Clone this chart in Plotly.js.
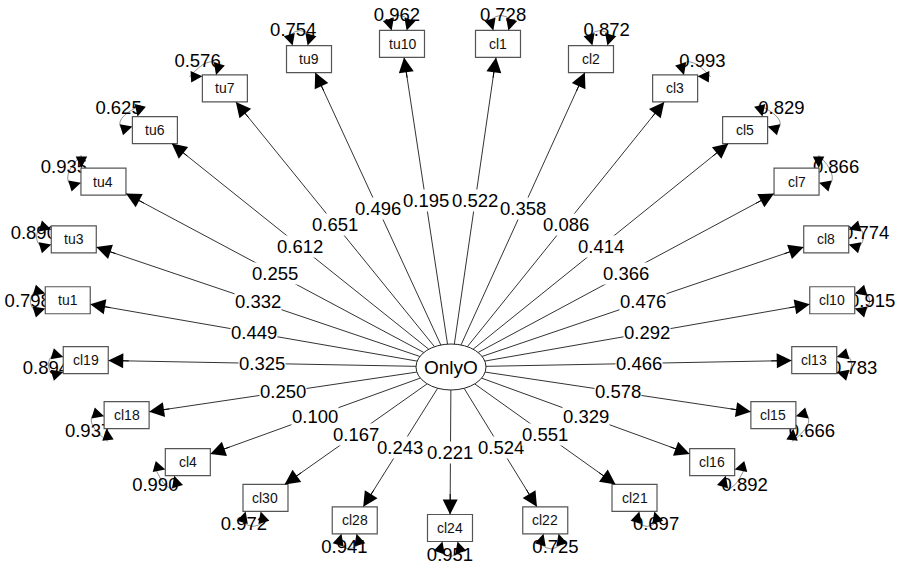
<!DOCTYPE html>
<html><head><meta charset="utf-8">
<script src="https://cdn.plot.ly/plotly-3.0.1.min.js"></script>
<style>html,body{margin:0;padding:0;background:#fff;}</style>
</head><body><div id="chart" style="width:899px;height:568px;"></div>
<script>
// ---- data ----
const latentName = 'OnlyO';
const indicators = ['tu10','tu9','tu7','tu6','tu4','tu3','tu1','cl19','cl18','cl4','cl30','cl28','cl24','cl22','cl21','cl16','cl15','cl13','cl10','cl8','cl7','cl5','cl3','cl2','cl1'];
const loadings = [0.195,0.496,0.651,0.612,0.255,0.332,0.449,0.325,0.250,0.100,0.167,0.243,0.221,0.524,0.551,0.329,0.578,0.466,0.292,0.476,0.366,0.414,0.086,0.358,0.522];
const residuals = [0.962,0.754,0.576,0.625,0.935,0.890,0.798,0.894,0.937,0.990,0.972,0.941,0.951,0.725,0.697,0.892,0.666,0.783,0.915,0.774,0.866,0.829,0.993,0.872,0.728];

// ---- layout geometry (circle layout) ----
const W = 899, H = 568;
const ring = {cx: 450, cy: 285, rx: 383, ry: 243, start: 97.2};
const lat = {x: 451, y: 367, rx: 35, ry: 23};
const hw = 22.5, hh = 13.5;
const PER = 4*hw + 4*hh;
const FONT = 'Liberation Sans, Arial, Helvetica, sans-serif';
const n = indicators.length, step = 360/n;

function rectFromArc(s){
  s = ((s % PER) + PER) % PER;
  if (s < 2*hw) return {x:-hw+s, y:-hh, nx:0, ny:-1};
  s -= 2*hw; if (s < 2*hh) return {x:hw, y:-hh+s, nx:1, ny:0};
  s -= 2*hh; if (s < 2*hw) return {x:hw-s, y:hh, nx:0, ny:1};
  s -= 2*hw; return {x:-hw, y:hh-s, nx:-1, ny:0};
}
function arcFromRect(px, py){
  if (Math.abs(py)/hh >= Math.abs(px)/hw){
    return py < 0 ? px + hw : 2*hw + 2*hh + (hw - px);
  }
  return px > 0 ? 2*hw + (py + hh) : 4*hw + 2*hh + (hh - py);
}

const lineX = [], lineY = [];
const resX = [], resY = [], resT = [];
const headAnn = [], labelAnn = [], nameAnn = [], loopAnn = [];
const shapesBelow = [], shapesAbove = [];

indicators.forEach((name, i) => {
  const t = (ring.start + step*i) * Math.PI/180;
  const c = Math.cos(t), s = Math.sin(t);
  const nx = ring.cx + ring.rx*c, ny = ring.cy - ring.ry*s;

  // main edge from latent ellipse border to box border
  const vx = nx - lat.x, vy = ny - lat.y;
  const ks = 1/Math.sqrt((vx/lat.rx)**2 + (vy/lat.ry)**2);
  const sx = lat.x + vx*ks, sy = lat.y + vy*ks;
  const ke = Math.min(hw/Math.max(Math.abs(vx),1e-9), hh/Math.max(Math.abs(vy),1e-9));
  const ex = nx - vx*ke, ey = ny - vy*ke;
  lineX.push(sx, ex, null); lineY.push(sy, ey, null);
  const L = Math.hypot(ex-sx, ey-sy), ux = (ex-sx)/L, uy = (ey-sy)/L;
  headAnn.push({x:ex, y:ey, xref:'x', yref:'y', ax:-ux*22, ay:-uy*22, text:'', showarrow:true,
    arrowhead:2, arrowsize:3, arrowwidth:1, arrowcolor:'#000', standoff:0, startstandoff:0});
  labelAnn.push({x:(sx+ex)/2, y:(sy+ey)/2, xref:'x', yref:'y', text:loadings[i].toFixed(3), showarrow:false,
    font:{family:FONT, size:18.5, color:'#000'}, bgcolor:'#fff', borderpad:0, xanchor:'center', yanchor:'middle'});

  // box
  shapesAbove.push({type:'rect', xref:'x', yref:'y', x0:nx-hw, x1:nx+hw, y0:ny-hh, y1:ny+hh,
    fillcolor:'#fff', line:{color:'#555', width:1.2}, layer:'above'});
  nameAnn.push({x:nx, y:ny, xref:'x', yref:'y', text:name, showarrow:false,
    font:{family:FONT, size:14, color:'#111'}, xanchor:'center', yanchor:'middle'});

  // residual loop
  const m = Math.max(Math.abs(c), Math.abs(s));
  const p0x = hw*c/m, p0y = -hh*s/m;
  const s0 = arcFromRect(p0x, p0y);
  const p0 = rectFromArc(s0);
  const ends = [rectFromArc(s0-7.5), rectFromArc(s0+7.5)];
  const tails = ends.map(P => {
    let dx = P.x - p0x, dy = P.y - p0y; const d = Math.hypot(dx,dy) || 1; dx/=d; dy/=d;
    const ox = P.nx*10 + dx*3, oy = P.ny*10 + dy*3;
    loopAnn.push({x:nx+P.x, y:ny+P.y, xref:'x', yref:'y', ax:ox, ay:oy, text:'', showarrow:true,
      arrowhead:2, arrowsize:2.3, arrowwidth:1, arrowcolor:'#000', standoff:0, startstandoff:0});
    return [nx+P.x+ox, ny+P.y+oy];
  });
  const cxp = nx + p0x + p0.nx*20, cyp = ny + p0y + p0.ny*20;
  shapesBelow.push({type:'path', xref:'x', yref:'y', layer:'below', line:{color:'#666', width:0.7},
    path:`M ${tails[0][0]} ${tails[0][1]} Q ${cxp} ${cyp} ${tails[1][0]} ${tails[1][1]}`});

  // residual label
  const rr = 1/Math.pow(c**4 + s**4, 0.25);
  resX.push(nx + 40*c*rr); resY.push(ny - 28*s*rr); resT.push(residuals[i].toFixed(3));
});

// latent
shapesAbove.push({type:'circle', xref:'x', yref:'y', x0:lat.x-lat.rx, x1:lat.x+lat.rx, y0:lat.y-lat.ry, y1:lat.y+lat.ry,
  fillcolor:'#fff', line:{color:'#222', width:1}, layer:'above'});
nameAnn.push({x:lat.x, y:lat.y, xref:'x', yref:'y', text:latentName, showarrow:false,
  font:{family:FONT, size:19, color:'#000'}, xanchor:'center', yanchor:'middle'});

const traces = [
  {type:'scatter', mode:'lines', x:lineX, y:lineY, line:{color:'#333', width:1}, hoverinfo:'skip'},
  {type:'scatter', mode:'text', x:resX, y:resY, text:resT, textposition:'middle center',
   textfont:{family:FONT, size:18.5, color:'#000'}, hoverinfo:'skip'}
];

const layout = {
  width: W, height: H, margin:{l:0, r:0, t:0, b:0},
  paper_bgcolor:'#fff', plot_bgcolor:'#fff', showlegend:false,
  xaxis:{range:[0, W], visible:false, fixedrange:true},
  yaxis:{range:[H, 0], visible:false, fixedrange:true},
  shapes: shapesBelow.concat(shapesAbove),
  annotations: headAnn.concat(labelAnn, loopAnn, nameAnn)
};
Plotly.newPlot('chart', traces, layout, {staticPlot:true, displayModeBar:false});
</script></body></html>
